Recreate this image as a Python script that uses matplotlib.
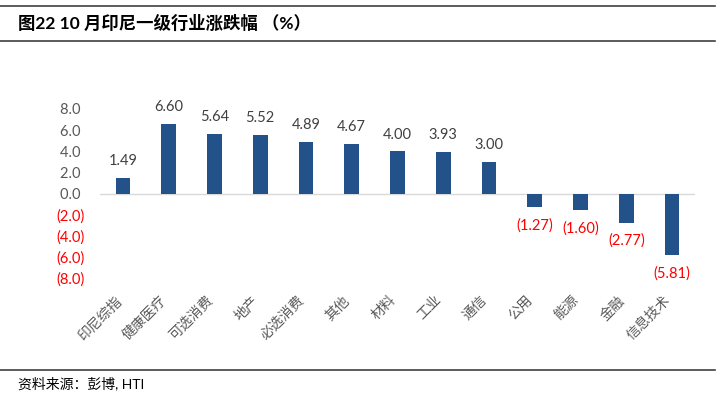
import numpy as np
import matplotlib.pyplot as plt
from matplotlib.lines import Line2D

plt.rcParams['font.family'] = ['Lato', 'Noto Sans CJK SC', 'DejaVu Sans']

# 10月印尼一级行业涨跌幅
categories = ["印尼综指", "健康医疗", "可选消费", "地产", "必选消费", "其他", "材料",
              "工业", "通信", "公用", "能源", "金融", "信息技术"]
values = [1.49, 6.60, 5.64, 5.52, 4.89, 4.67, 4.00, 3.93, 3.00, -1.27, -1.60, -2.77, -5.81]
yticks = [-8, -6, -4, -2, 0, 2, 4, 6, 8]

BAR_COLOR = "#23528B"
GREY = "#595959"
RED = "#FF0000"

fig = plt.figure(figsize=(7.24, 3.97), dpi=100)
ax = fig.add_axes([100 / 724, 1 - 278 / 397, 595 / 724, 169 / 397])

x = np.arange(len(categories))
ax.bar(x, values, width=0.32, color=BAR_COLOR, zorder=3)
ax.axhline(0, color="#D9D9D9", lw=1, zorder=2)

for xi, v in zip(x, values):
    if v >= 0:
        ax.annotate(f"{v:.2f}", (xi, v), xytext=(0, 7), textcoords="offset points",
                    ha="center", va="bottom", fontsize=10.5, color="#404040")
    else:
        ax.annotate(f"({abs(v):.2f})", (xi, v), xytext=(0, -8), textcoords="offset points",
                    ha="center", va="top", fontsize=10.5, color=RED)

ax.set_xlim(-0.5, len(categories) - 0.5)
ax.set_ylim(-8, 8)
ax.set_yticks(yticks)
# positives get a trailing space so digits line up with the bracketed negatives
ylabels = [f"{t:.1f} " if t >= 0 else f"({abs(t):.1f})" for t in yticks]
ax.set_yticklabels(ylabels, fontsize=10.5)
for lab, t in zip(ax.get_yticklabels(), yticks):
    lab.set_color(GREY if t >= 0 else RED)

# category labels, rotated and nudged left of the bar like in excel
ax.set_xticks(x)
ax.set_xticklabels([])
for xi, c in zip(x, categories):
    ax.annotate(c, (xi, 0), xycoords=ax.get_xaxis_transform(), xytext=(-6.5, -11),
                textcoords="offset points", rotation=45, rotation_mode="anchor",
                ha="right", va="top", fontsize=10, color=GREY)
ax.tick_params(axis="both", length=0)
ax.tick_params(axis="y", pad=11)
for s in ax.spines.values():
    s.set_visible(False)

# title block and source
fig.add_artist(Line2D([0, 715 / 724], [1 - 6 / 397] * 2, color="#404040", lw=1.2))
fig.add_artist(Line2D([0, 715 / 724], [1 - 41 / 397] * 2, color="#404040", lw=1.2))
fig.text(18 / 724, 1 - 23 / 397, "图22 10 月印尼一级行业涨跌幅 （%）", fontsize=12.5,
         fontweight="bold", va="center", ha="left", color="black")
fig.add_artist(Line2D([0, 715 / 724], [1 - 370 / 397] * 2, color="#404040", lw=1.2))
fig.text(18 / 724, 1 - 383 / 397, "资料来源：彭博, HTI", fontsize=10,
         va="center", ha="left", color="black")

fig.savefig("out.png", dpi=100)
